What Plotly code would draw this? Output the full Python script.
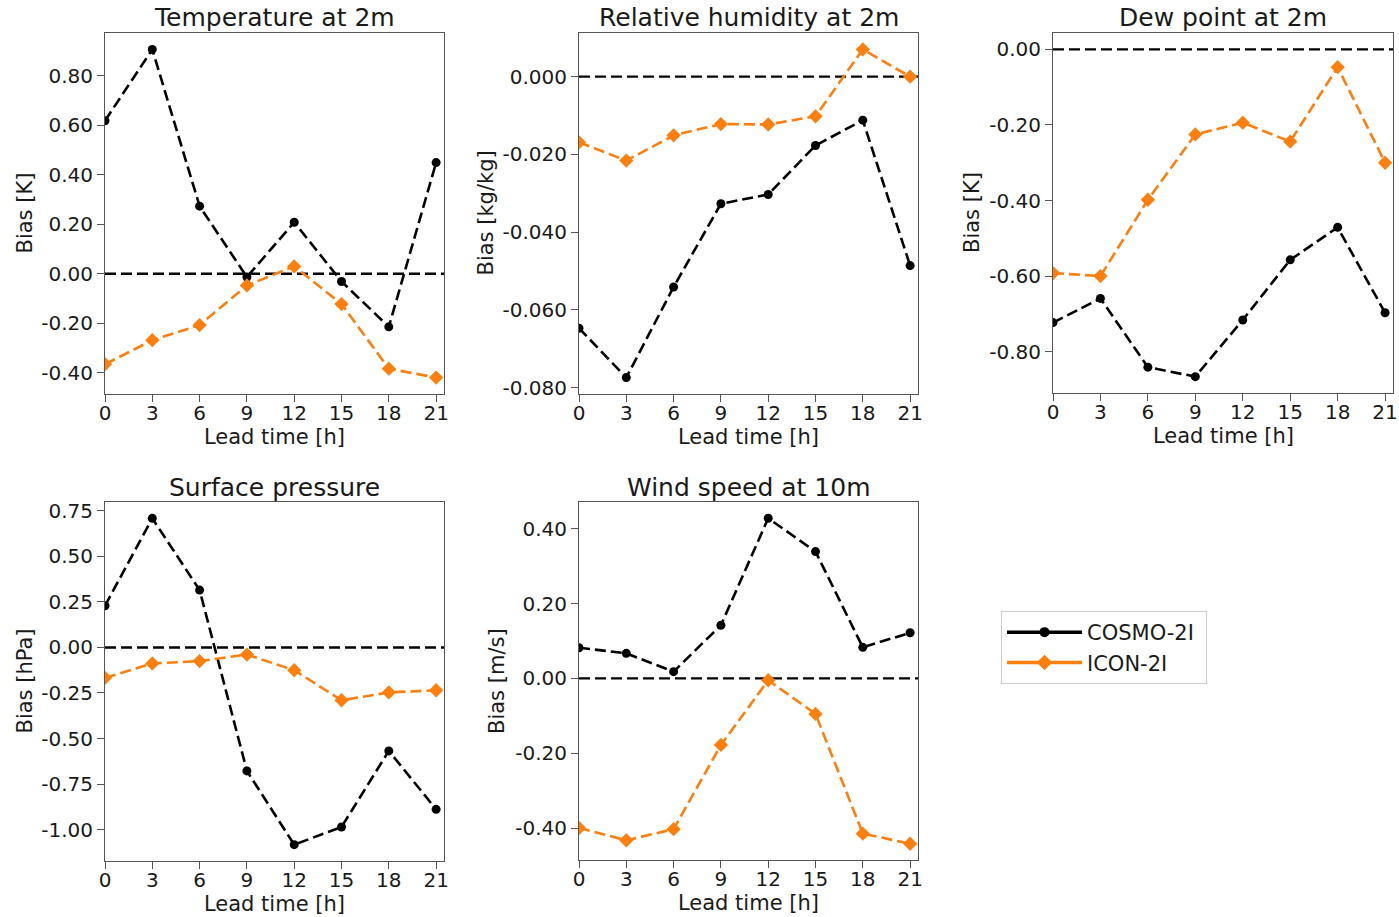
import plotly.graph_objects as go

W, H = 1399, 917

lead_time = [0, 3, 6, 9, 12, 15, 18, 21]

titles = ["Temperature at 2m", "Relative humidity at 2m", "Dew point at 2m",
          "Surface pressure", "Wind speed at 10m"]
ylabels = ["Bias [K]", "Bias [kg/kg]", "Bias [K]", "Bias [hPa]", "Bias [m/s]"]

t2m_cosmo = [0.618, 0.906, 0.273, -0.013, 0.208, -0.031, -0.214, 0.449]
t2m_icon = [-0.365, -0.268, -0.207, -0.047, 0.030, -0.122, -0.383, -0.419]

rh_cosmo = [-0.0647, -0.0774, -0.0541, -0.0327, -0.0303, -0.0177, -0.0112, -0.0486]
rh_icon = [-0.0169, -0.0216, -0.0151, -0.0122, -0.0123, -0.0102, 0.0070, 0.0000]

td_cosmo = [-0.723, -0.659, -0.841, -0.866, -0.716, -0.557, -0.471, -0.697]
td_icon = [-0.592, -0.600, -0.398, -0.225, -0.194, -0.244, -0.047, -0.300]

ps_cosmo = [0.229, 0.709, 0.315, -0.678, -1.083, -0.986, -0.568, -0.889]
ps_icon = [-0.167, -0.088, -0.075, -0.039, -0.125, -0.290, -0.247, -0.235]

ws_cosmo = [0.082, 0.067, 0.018, 0.142, 0.428, 0.339, 0.083, 0.122]
ws_icon = [-0.400, -0.433, -0.403, -0.178, -0.005, -0.095, -0.415, -0.442]

ytick_vals = [
    [-0.4, -0.2, 0.0, 0.2, 0.4, 0.6, 0.8],
    [-0.08, -0.06, -0.04, -0.02, 0.0],
    [-0.8, -0.6, -0.4, -0.2, 0.0],
    [-1.0, -0.75, -0.5, -0.25, 0.0, 0.25, 0.5, 0.75],
    [-0.4, -0.2, 0.0, 0.2, 0.4],
]
ytick_fmt = ["{:.2f}", "{:.3f}", "{:.2f}", "{:.2f}", "{:.2f}"]

series = [
    (t2m_cosmo, t2m_icon),
    (rh_cosmo, rh_icon),
    (td_cosmo, td_icon),
    (ps_cosmo, ps_icon),
    (ws_cosmo, ws_icon),
]

model_names = ["COSMO-2I", "ICON-2I"]
colors = ["#000000", "#ff7f0e"]
symbols = ["circle", "diamond"]
msizes = [9, 11]

# pixel boxes of the axes (left, right, top, bottom)
boxes = [
    (105, 444, 33, 394),
    (579, 918, 33, 394),
    (1053, 1393, 33, 393),
    (105, 444, 502, 861),
    (579, 918, 502, 860),
]
ylabel_x = [24, 485, 972, 24, 497]

FONT = "DejaVu Sans"
TXT = "#1a1a1a"
AX = "#555555"

fig = go.Figure()
annotations = []
shapes = []

for i, ((cos, ico), box) in enumerate(zip(series, boxes)):
    n = i + 1
    xa = "x" if n == 1 else f"x{n}"
    ya = "y" if n == 1 else f"y{n}"
    for vals, name, c, s, ms in zip((cos, ico), model_names, colors, symbols, msizes):
        fig.add_trace(go.Scatter(
            x=lead_time, y=vals, mode="lines+markers", name=name,
            line=dict(color=c, width=2.6, dash="11px,5px"),
            marker=dict(color=c, symbol=s, size=ms),
            xaxis=xa, yaxis=ya, showlegend=False, cliponaxis=True))
    allv = list(cos) + list(ico) + [0.0]
    lo, hi = min(allv), max(allv)
    pad = 0.05 * (hi - lo)
    l, r, t, b = box
    xd = [l / W, r / W]
    yd = [1 - b / H, 1 - t / H]
    axis_common = dict(
        showline=True, linecolor=AX, linewidth=1, mirror=True,
        ticks="outside", ticklen=7, tickcolor=AX, tickwidth=1,
        showgrid=False, zeroline=False, automargin=False,
        tickfont=dict(family=FONT, size=20, color=TXT),
    )
    fig.layout[f"xaxis{'' if n == 1 else n}"] = dict(
        domain=xd, anchor=ya, range=[0, 21.5],
        tickvals=lead_time, ticktext=[str(v) for v in lead_time],
        ticklabelstandoff=-6,
        **axis_common)
    fig.layout[f"yaxis{'' if n == 1 else n}"] = dict(
        domain=yd, anchor=xa, range=[lo - pad, hi + pad],
        tickvals=ytick_vals[i],
        ticktext=[ytick_fmt[i].format(v) for v in ytick_vals[i]],
        **axis_common)
    shapes.append(dict(
        type="line", xref=f"{xa} domain", x0=0, x1=1, yref=ya, y0=0, y1=0,
        line=dict(color="black", width=2.4, dash="11px,5px"), layer="below"))
    cx = (l + r) / 2 / W
    annotations.append(dict(
        text=titles[i], x=cx, y=1 - (t - 15) / H, xref="paper", yref="paper",
        xanchor="center", yanchor="middle", showarrow=False,
        font=dict(family=FONT, size=25, color=TXT)))
    annotations.append(dict(
        text="Lead time [h]", x=cx, y=1 - (b + 43) / H, xref="paper", yref="paper",
        xanchor="center", yanchor="middle", showarrow=False,
        font=dict(family=FONT, size=21, color=TXT)))
    annotations.append(dict(
        text=ylabels[i], x=ylabel_x[i] / W, y=1 - (t + b) / 2 / H,
        xref="paper", yref="paper", xanchor="center", yanchor="middle",
        textangle=-90, showarrow=False,
        font=dict(family=FONT, size=21, color=TXT)))

# legend entries (solid lines as in the reference legend)
for name, c, s, ms in zip(model_names, colors, symbols, msizes):
    fig.add_trace(go.Scatter(
        x=[None], y=[None], mode="lines+markers", name=name + " ",
        line=dict(color=c, width=3.5), marker=dict(color=c, symbol=s, size=ms + 1),
        showlegend=True))

fig.update_layout(
    width=W, height=H,
    margin=dict(l=0, r=0, t=0, b=0),
    paper_bgcolor="white", plot_bgcolor="white",
    annotations=annotations, shapes=shapes,
    showlegend=True,
    legend=dict(
        x=1001 / W, y=1 - 611 / H, xanchor="left", yanchor="top",
        bgcolor="white", bordercolor="#cccccc", borderwidth=1,
        font=dict(family=FONT, size=21, color=TXT),
        itemwidth=75, tracegroupgap=0,
    ),
    font=dict(family=FONT, color=TXT),
)

fig.write_html("out.html")
